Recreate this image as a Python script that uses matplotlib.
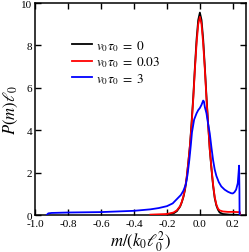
import matplotlib
matplotlib.use("Agg")
import matplotlib.pyplot as plt

plt.rcParams["font.family"] = ["Liberation Serif", "DejaVu Serif"]
plt.rcParams["mathtext.fontset"] = "stix"
plt.rcParams["axes.unicode_minus"] = False

# v0 tau0 = 0
m_black = [-0.20, -0.16, -0.14, -0.12, -0.11, -0.10, -0.09, -0.08, -0.07, -0.06,
           -0.05, -0.04, -0.03, -0.02, -0.01, 0.00, 0.01, 0.02, 0.03, 0.04,
           0.05, 0.06, 0.07, 0.08, 0.09, 0.10, 0.11, 0.12, 0.14, 0.18, 0.24]
p_black = [0.03, 0.08, 0.18, 0.40, 0.60, 0.85, 1.20, 1.75, 2.50, 3.30,
           4.40, 5.60, 7.00, 8.30, 9.20, 9.55, 9.20, 8.30, 7.00, 5.60,
           4.30, 3.10, 2.20, 1.40, 0.80, 0.45, 0.25, 0.12, 0.05, 0.02, 0.01]

# v0 tau0 = 0.03
m_red = [-0.30, -0.20, -0.16, -0.14, -0.12, -0.11, -0.10, -0.09, -0.08, -0.07,
         -0.06, -0.05, -0.04, -0.03, -0.02, -0.01, 0.00, 0.01, 0.02, 0.03,
         0.04, 0.05, 0.06, 0.07, 0.08, 0.09, 0.10, 0.11, 0.12, 0.14,
         0.17, 0.20, 0.23, 0.243, 0.245]
p_red = [0.02, 0.05, 0.12, 0.22, 0.42, 0.62, 0.88, 1.25, 1.80, 2.50,
         3.30, 4.30, 5.50, 6.90, 8.10, 9.00, 9.35, 9.00, 8.10, 6.90,
         5.50, 4.30, 3.10, 2.25, 1.45, 0.85, 0.50, 0.30, 0.22, 0.17,
         0.15, 0.15, 0.14, 0.14, 0.00]

# v0 tau0 = 3
m_blue = [-0.93, -0.92, -0.90, -0.80, -0.70, -0.60, -0.50, -0.40, -0.30, -0.25,
          -0.20, -0.165, -0.14, -0.115, -0.10, -0.085, -0.075, -0.064, -0.055, -0.048,
          -0.035, -0.02, -0.01, 0.00, 0.01, 0.02, 0.025, 0.03, 0.04, 0.05,
          0.06, 0.07, 0.08, 0.09, 0.10, 0.115, 0.13, 0.15, 0.17, 0.19,
          0.20, 0.21, 0.22, 0.23, 0.235, 0.238, 0.240, 0.241]
p_blue = [0.00, 0.08, 0.10, 0.12, 0.13, 0.14, 0.17, 0.20, 0.27, 0.33,
          0.42, 0.55, 0.75, 0.95, 1.15, 1.45, 1.90, 2.60, 3.30, 3.90,
          4.50, 4.80, 4.95, 5.05, 5.20, 5.40, 5.35, 5.10, 4.80, 4.30,
          3.85, 3.20, 2.60, 2.15, 1.85, 1.55, 1.35, 1.20, 1.10, 1.03,
          1.02, 1.08, 1.20, 1.50, 2.00, 2.33, 1.20, 0.00]

labels = [r"$v_0\tau_0\;=\;0$", r"$v_0\tau_0\;=\;0.03$", r"$v_0\tau_0\;=\;3$"]
x_ticks = [-1.0, -0.8, -0.6, -0.4, -0.2, 0.0, 0.2]
y_ticks = [0, 2, 4, 6, 8, 10]

fig = plt.figure(figsize=(2.49, 2.53), dpi=100)
ax = fig.add_axes([0.141, 0.146, 0.847, 0.838])

ax.plot(m_black, p_black, color="black", linewidth=1.3, label=labels[0], zorder=2)
ax.plot(m_red, p_red, color="red", linewidth=1.3, label=labels[1], zorder=3)
ax.plot(m_blue, p_blue, color="blue", linewidth=1.3, label=labels[2], zorder=4)

ax.set_xlim(-1.0, 0.28)
ax.set_ylim(0, 10)
ax.set_xticks(x_ticks)
ax.set_xticklabels(["%.1f" % t for t in x_ticks])
ax.set_yticks(y_ticks)
ax.tick_params(direction="in", top=True, right=True, length=4.5, width=1.0,
               labelsize=8, pad=2)
ax.tick_params(axis="x", pad=3)
for s in ax.spines.values():
    s.set_linewidth(1.1)

ax.set_xlabel(r"$m/(k_0\ell_0^2)$", fontsize=12, labelpad=0)
ax.set_ylabel(r"$P(m)\ell_0$", fontsize=12, labelpad=1)

ax.legend(loc="upper left", bbox_to_anchor=(0.15, 0.86), frameon=False,
          fontsize=9.5, handlelength=1.5, handletextpad=0.35, labelspacing=0.12,
          borderaxespad=0)

plt.savefig("out.png", dpi=100)
plt.close()
